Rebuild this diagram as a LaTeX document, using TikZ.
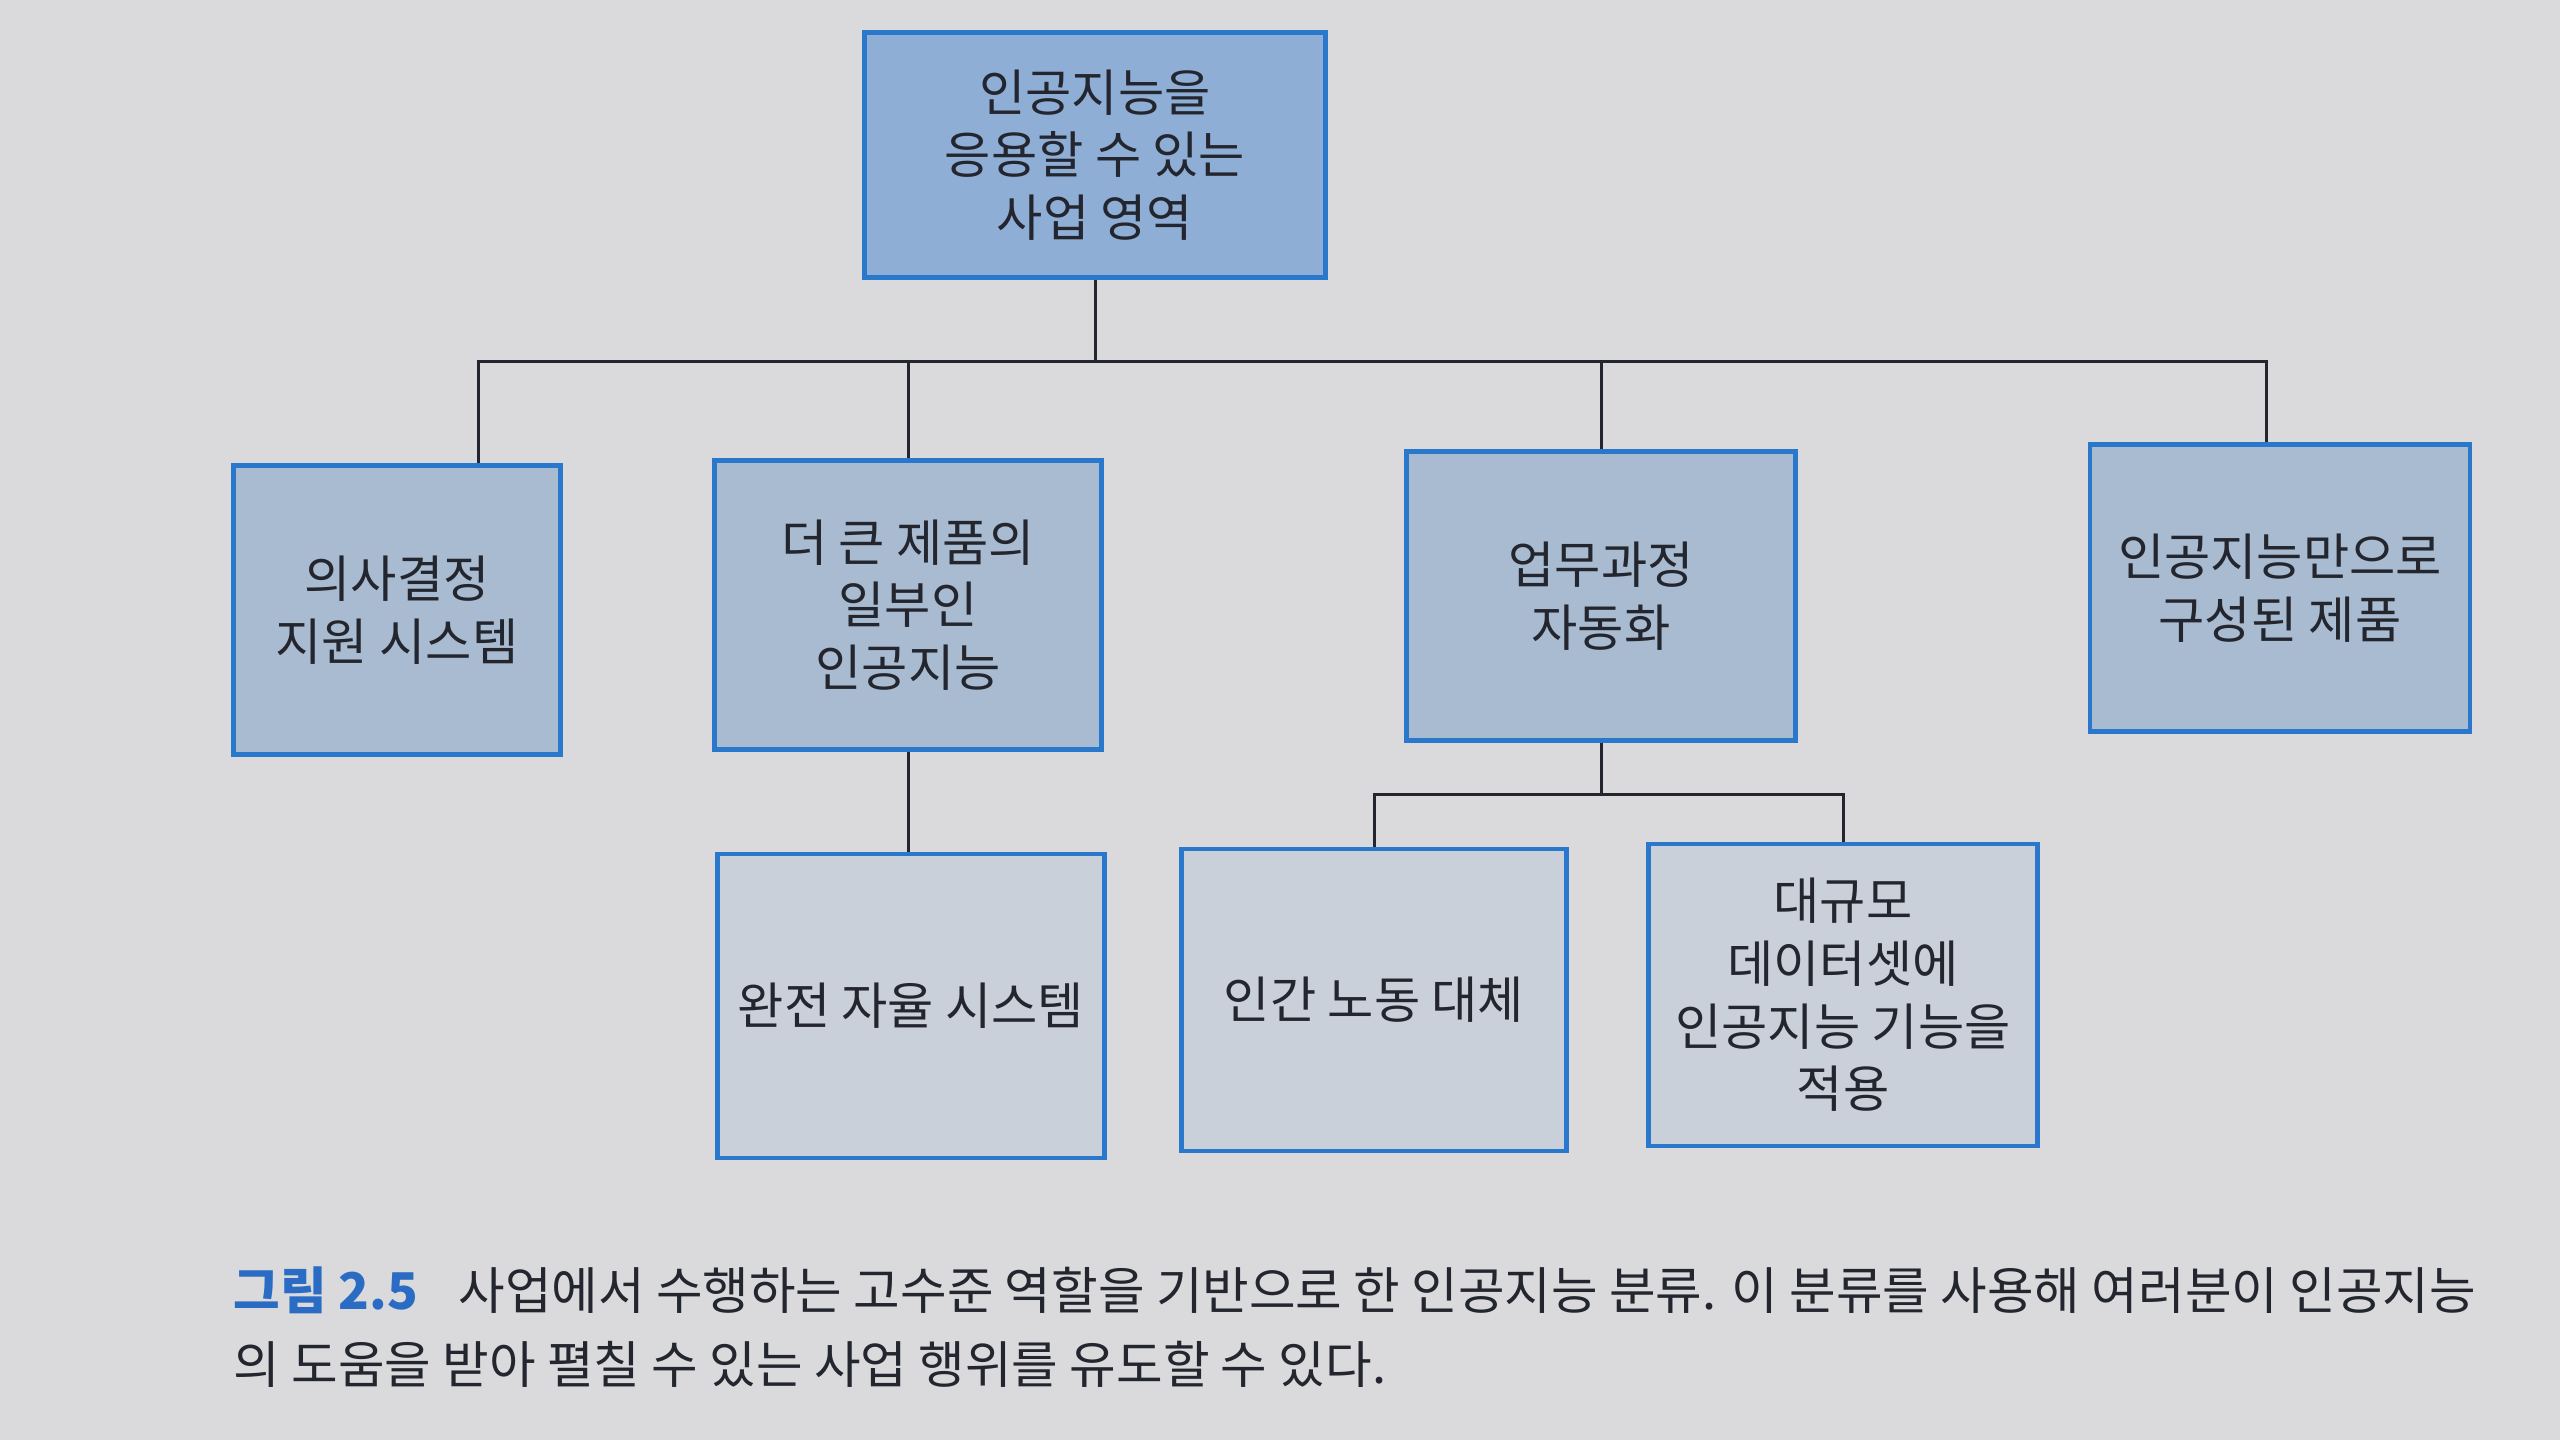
\documentclass[tikz,border=0pt]{standalone}
\usepackage{fontspec}
\setmainfont{Noto Sans CJK KR}
\usetikzlibrary{calc}
\definecolor{paper}{HTML}{DADADC}
\definecolor{topfill}{HTML}{8FAED6}
\definecolor{midfill}{HTML}{A9BBD0}
\definecolor{lowfill}{HTML}{C9D0DA}
\definecolor{edgeblue}{HTML}{2A78CC}
\definecolor{ink}{HTML}{23262E}
\definecolor{capblue}{HTML}{2A6CC4}
\begin{document}
\begin{tikzpicture}[x=0.01cm,y=-0.01cm,
  box/.style={draw=edgeblue, line width=0.045cm, align=center, text=ink,
    font=\fontsize{14.3}{17.8}\selectfont, inner sep=0pt},
  topbox/.style={box, fill=topfill},
  midbox/.style={box, fill=midfill},
  lowbox/.style={box, fill=lowfill},
  link/.style={draw=ink, line width=0.03cm}]
\useasboundingbox (0,0) rectangle (2560,1440);
\fill[paper] (0,0) rectangle (2560,1440);

\node[topbox, minimum width=4.61cm, minimum height=2.45cm] (root) at (1095,155) {인공지능을\\응용할 수 있는\\사업 영역};

\node[midbox, minimum width=3.27cm, minimum height=2.89cm] (A) at (397,610) {의사결정\\지원 시스템};
\node[midbox, minimum width=3.87cm, minimum height=2.89cm] (B) at (908,605) {더 큰 제품의\\일부인\\인공지능};
\node[midbox, minimum width=3.89cm, minimum height=2.89cm] (C) at (1601,596) {업무과정\\자동화};
\node[midbox, minimum width=3.80cm, minimum height=2.87cm] (D) at (2280,588) {인공지능만으로\\구성된 제품};

\node[lowbox, minimum width=3.87cm, minimum height=3.04cm] (E) at (911,1006) {완전 자율 시스템};
\node[lowbox, minimum width=3.85cm, minimum height=3.02cm] (F) at (1374,1000) {인간 노동 대체};
\node[lowbox, minimum width=3.89cm, minimum height=3.02cm] (G) at (1843,995) {대규모\\데이터셋에\\인공지능 기능을\\적용};

\coordinate (j1) at (1095,362);
\coordinate (j2) at (1601,795);

\draw[link] (root.south) -- (j1);
\draw[link] ($(A.north)+(81,0)$) |- ($(D.north |- j1)+(-14,0)$) -- ($(D.north)+(-14,0)$);
\draw[link] (B.north) -- (B.north |- j1);
\draw[link] (C.north) -- (C.north |- j1);

\draw[link] (B.south) -- (B.south |- E.north);
\draw[link] (C.south) -- (j2);
\draw[link] (F.north) |- (G.north |- j2) -- (G.north);

\node[anchor=base west, align=left, text=ink, inner sep=0pt,
  font=\fontsize{14.4}{20.8}\selectfont] (cap) at (233,1383)
  {{\color{capblue}\bfseries 그림 2.5}\hspace{0.8em}사업에서 수행하는 고수준 역할을 기반으로 한 인공지능 분류. 이 분류를 사용해 여러분이 인공지능\\의 도움을 받아 펼칠 수 있는 사업 행위를 유도할 수 있다.};
\end{tikzpicture}
\end{document}
